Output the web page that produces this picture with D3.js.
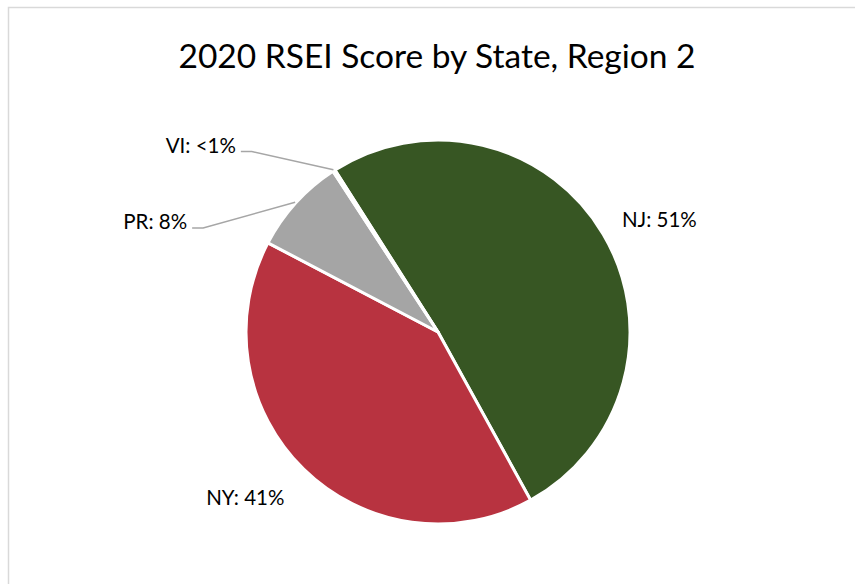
<!DOCTYPE html>
<html>
<head>
<meta charset="utf-8">
<script src="https://cdn.jsdelivr.net/npm/d3@7"></script>
<style>
  html, body { margin: 0; padding: 0; background: #fff; }
  svg { display: block; }
</style>
</head>
<body>
<svg id="chart" width="855" height="584"></svg>
<script>
// ---- data ----
const categories = ["NJ", "NY", "PR", "VI"];
const values = [51.0, 40.7, 8.1, 0.2];
const labels = ["NJ: 51%", "NY: 41%", "PR: 8%", "VI: <1%"];
const colors = ["#375623", "#B83340", "#A5A5A5", "#4472C4"];
const title = "2020 RSEI Score by State, Region 2";

// ---- layout ----
const W = 855, H = 584;
const cx = 438, cy = 332, R = 192;
const deg = Math.PI / 180;
const startA = -32.45 * deg;
const FONT = "Lato, 'Open Sans', sans-serif";

// label placement (polar: angle in degrees from 12 o'clock, distance as multiple of R)
const labelLayout = {
  NJ: { type: "direct", angle: 62.9, dist: 1.295 },
  NY: { type: "direct", angle: 229.5, dist: 1.32 },
  PR: { type: "leader", angle: -66.1, dist: 1.338 },
  VI: { type: "leader", angle: -45.9, dist: 1.35 }
};

const svg = d3.select("#chart");

// chart border (extends beyond right/bottom edges like the reference crop)
svg.append("rect")
  .attr("x", 8.5).attr("y", 7.5)
  .attr("width", 900).attr("height", 700)
  .attr("fill", "#fff")
  .attr("stroke", "#d9d9d9")
  .attr("stroke-width", 1.5);

svg.append("text")
  .attr("x", 437).attr("y", 68)
  .attr("text-anchor", "middle")
  .attr("font-family", FONT)
  .attr("font-size", 33.5)
  .attr("fill", "#000")
  .text(title);

const data = categories.map((c, i) => ({ cat: c, value: values[i], label: labels[i], color: colors[i] }));

const pie = d3.pie().value(d => d.value).sort(null)
  .startAngle(startA).endAngle(startA + 2 * Math.PI);
const arcs = pie(data);

const arc = d3.arc().innerRadius(0).outerRadius(R);

const g = svg.append("g").attr("transform", `translate(${cx},${cy})`);

g.selectAll("path.slice").data(arcs).enter().append("path")
  .attr("class", "slice")
  .attr("d", arc)
  .attr("fill", d => d.data.color)
  .attr("stroke", "#fff")
  .attr("stroke-width", 3)
  .attr("stroke-linejoin", "round");

function polar(aDeg, dist) {
  const a = aDeg * deg;
  return [Math.sin(a) * dist, -Math.cos(a) * dist];
}

arcs.forEach(d => {
  const lay = labelLayout[d.data.cat];
  if (lay.type === "direct") {
    const [x, y] = polar(lay.angle, lay.dist * R);
    g.append("text")
      .attr("x", x).attr("y", y)
      .attr("text-anchor", "middle")
      .attr("dominant-baseline", "central")
      .attr("font-family", FONT)
      .attr("font-size", 20.5)
      .attr("fill", "#000")
      .text(d.data.label);
  } else {
    const mid = (d.startAngle + d.endAngle) / 2;
    const p0 = [Math.sin(mid) * (R + 1), -Math.cos(mid) * (R + 1)];
    const [ex, ey] = polar(lay.angle, lay.dist * R);
    const hx = ex - 11;
    g.append("polyline")
      .attr("points", [p0, [ex, ey], [hx, ey]].map(p => p.join(",")).join(" "))
      .attr("fill", "none")
      .attr("stroke", "#A6A6A6")
      .attr("stroke-width", 1.5);
    g.append("text")
      .attr("x", hx - 5).attr("y", ey + 1)
      .attr("text-anchor", "end")
      .attr("font-family", FONT)
      .attr("font-size", 20.5)
      .attr("fill", "#000")
      .text(d.data.label);
  }
});
</script>
</body>
</html>
